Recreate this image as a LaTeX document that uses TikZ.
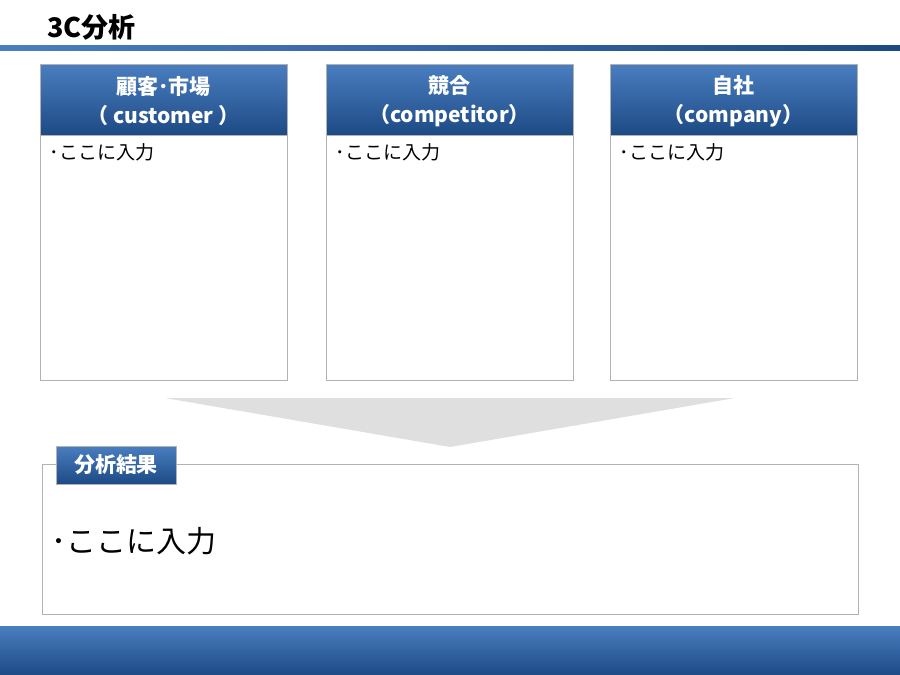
\documentclass[tikz,border=0pt]{standalone}
\usepackage{fontspec}
\setmainfont{Liberation Sans}
\newfontfamily\jp{Noto Sans CJK JP}
\begin{document}
\begin{tikzpicture}[x=1pt,y=-1pt,
  body/.style={draw=gray!60,fill=white,line width=0.6pt},
  htext/.style={text=white,font=\jp\bfseries\fontsize{21}{29}\selectfont,align=center},
  btext/.style={anchor=north west,font=\jp\fontsize{19}{22}\selectfont}]
\definecolor{hdtop}{HTML}{4A7EC0}
\definecolor{hdbot}{HTML}{1D4A85}
\tikzset{hdr/.style={draw=gray!60,top color=hdtop,bottom color=hdbot}}
\useasboundingbox (0,0) rectangle (900,675);
\node[anchor=west,font=\jp\bfseries\fontsize{27}{30}\selectfont] (title) at (44,27) {3C分析};
\shade[left color=hdtop,right color=hdbot] (0,45) rectangle (900,50);
\foreach \x/\n/\t in {40/a/{顧客･市場\\（ customer ）},326/b/{競合\\（competitor）},610/c/{自社\\（company）}}{
  \draw[body] (\x,64) rectangle ++(247,316);
  \shade[hdr] (\x,64) rectangle ++(247,71);
  \node[htext] (h\n) at (\x+123.5,101) {\t};
  \node[btext] (t\n) at (\x+6,140) {･ここに入力};
}
\fill[gray!25] (165,398) -- (735,398) -- (450,447) -- cycle;
\draw[body] (42,464) rectangle (858,614);
\shade[hdr] (56,446) rectangle (176,484);
\node[htext,font=\jp\bfseries\fontsize{21}{24}\selectfont] (res) at (116,465) {分析結果};
\node[anchor=west,font=\jp\fontsize{30}{34}\selectfont] (rt) at (48,541) {･ここに入力};
\shade[top color=hdtop,bottom color=hdbot] (0,626) rectangle (900,675);
\end{tikzpicture}
\end{document}
